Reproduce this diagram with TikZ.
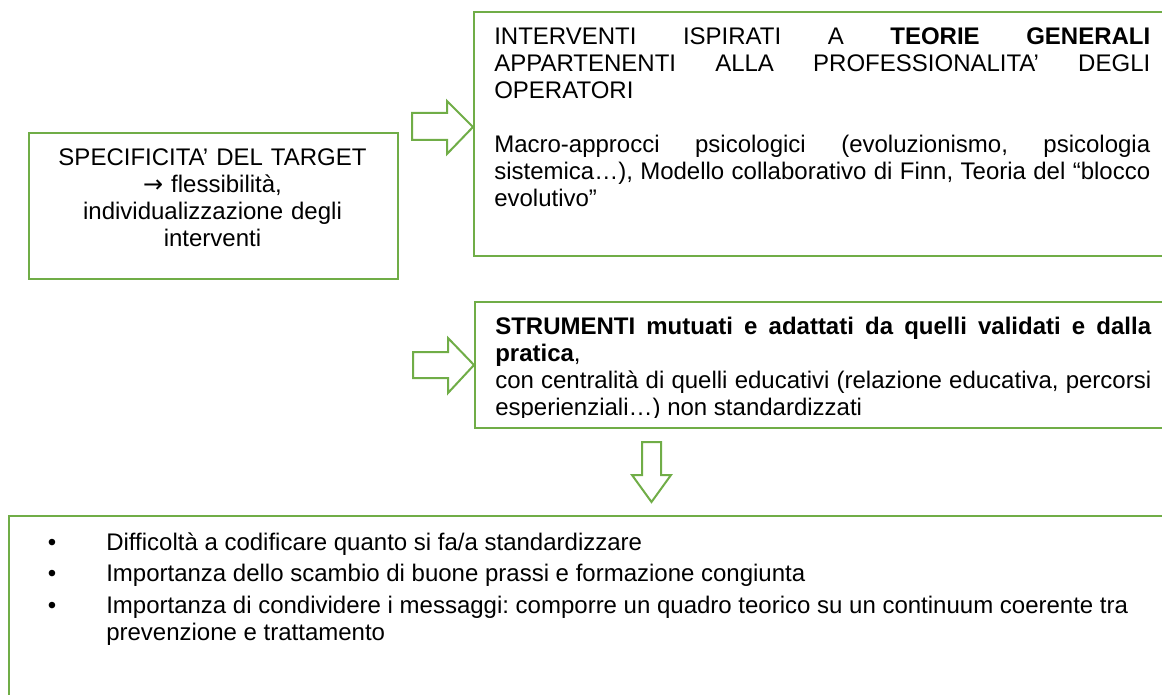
\documentclass[tikz,border=0pt]{standalone}
\usepackage{fontspec}
\setmainfont{Liberation Sans}
\newfontfamily\arrowfont{DejaVu Sans}
\usetikzlibrary{positioning}
\definecolor{boxgreen}{RGB}{112,173,71}
\tolerance=10000
\hbadness=10000
\hyphenpenalty=10000
\frenchspacing
\tikzset {
    green box/.style={
        draw=boxgreen,
        line width=1.5pt,
        rectangle, % plain frame, text goes in its own node
        anchor=north west,
        inner sep=0pt,
    },
    box text/.style={
        inner sep=0pt,
        font=\fontsize{18}{20.25}\selectfont,
    },
    block arrow/.style={
        draw=boxgreen,
        line width=1.5pt,
        fill=white,
        line join=miter,
    },
}
\begin{document}
\begin{tikzpicture}
[x=0.75pt, y=-0.75pt]
\clip (0,0) rectangle (1162,695);

% frames
\node[green box, minimum width=276.75pt, minimum height=109.5pt] at (28,132) (target) {};
\node[green box, minimum width=545pt, minimum height=183pt] at (473,11) (theories) {};
\node[green box, minimum width=545pt, minimum height=94.5pt] at (474,301) (tools) {};
\node[green box, minimum width=900pt, minimum height=150pt] at (8,515) (issues) {};

% texts
\node[box text, text width=276.75pt, align=center, anchor=north] at (212.5,148.8) (targettext) {SPECIFICITA’ DEL TARGET\\ {\arrowfont →} flessibilità,\\ individualizzazione degli\\ interventi};
\node[box text, text width=492pt, align=justify, anchor=north west] at (494,27.8) (theoriestext) {INTERVENTI ISPIRATI A \textbf{TEORIE GENERALI}\linebreak APPARTENENTI ALLA PROFESSIONALITA’ DEGLI\linebreak OPERATORI\\[20.25pt]
Macro-approcci psicologici (evoluzionismo, psicologia\linebreak sistemica…), Modello collaborativo di Finn, Teoria del “blocco\linebreak evolutivo”};
\begin{scope}
\clip (474,301) rectangle (1162,417);
\node[box text, text width=492pt, align=justify, anchor=north west] at (495,316.8) (toolstext) {\textbf{STRUMENTI mutuati e adattati da quelli validati e dalla}\linebreak \textbf{pratica},\\
con centralità di quelli educativi (relazione educativa, percorsi\linebreak esperienziali…) non standardizzati};
\end{scope}

\node[box text, anchor=base] at (52,550) (dot1) {•};
\node[box text, anchor=base west] at (106,550) (item1) {Difficoltà a codificare quanto si fa/a standardizzare};
\node[box text, anchor=base] at (52,581) (dot2) {•};
\node[box text, anchor=base west] at (106,581) (item2) {Importanza dello scambio di buone prassi e formazione congiunta};
\node[box text, anchor=base] at (52,613) (dot3) {•};
\node[box text, anchor=base west] at (106,613) (item3) {Importanza di condividere i messaggi: comporre un quadro teorico su un continuum coerente tra};
\node[box text, anchor=base west] at (106,640) (item3b) {prevenzione e trattamento};

% block arrows
\coordinate (tip1) at (theories.west |- 0,127);
\coordinate (tip2) at (tools.west);
\coordinate (tip3) at (651.5,502);
\draw[block arrow] (tip1) -- ++(-26,-26) -- ++(0,12) -- ++(-35,0) -- ++(0,27) -- ++(35,0) -- ++(0,14) -- cycle;
\draw[block arrow] (tip2) -- ++(-26,-27) -- ++(0,14) -- ++(-35,0) -- ++(0,26) -- ++(35,0) -- ++(0,15) -- cycle;
\draw[block arrow] (tip3) -- ++(-19.5,-27) -- ++(10,0) -- ++(0,-33) -- ++(19,0) -- ++(0,33) -- ++(10,0) -- cycle;
\end{tikzpicture}
\end{document}
